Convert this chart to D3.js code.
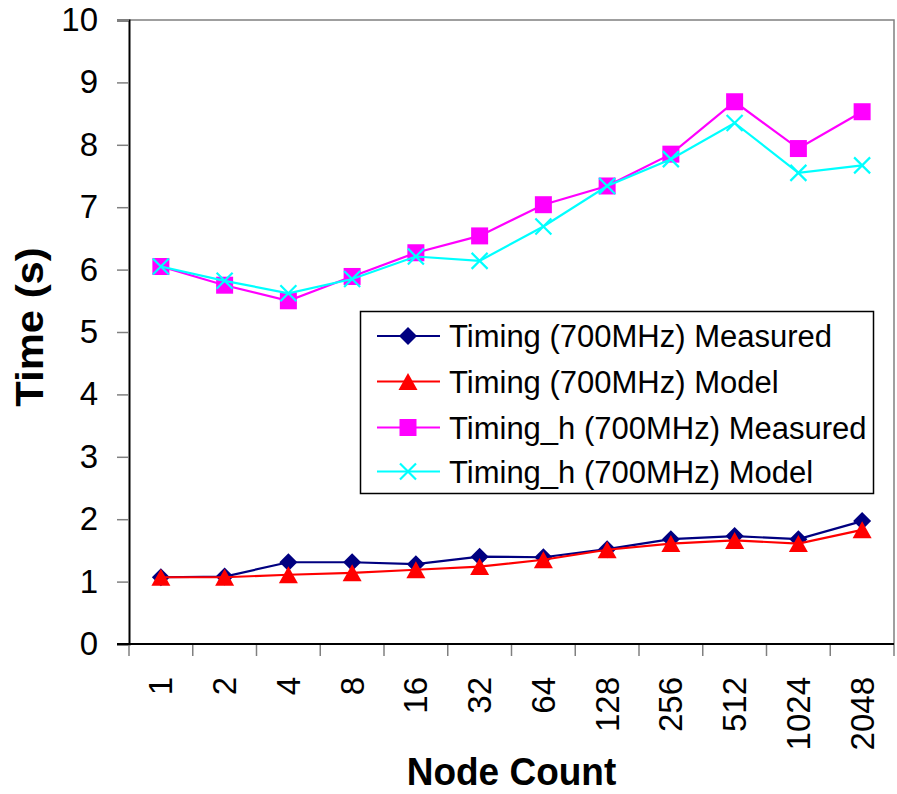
<!DOCTYPE html>
<html>
<head>
<meta charset="utf-8">
<script src="https://cdn.jsdelivr.net/npm/d3@7"></script>
<style>
  html, body { margin: 0; padding: 0; background: #fff; }
  svg { display: block; font-family: Arial, "Liberation Sans", sans-serif; }
</style>
</head>
<body>
<svg id="chart" width="897" height="794"></svg>
<script>
// Node counts along the x axis
const nodeCounts = ["1", "2", "4", "8", "16", "32", "64", "128", "256", "512", "1024", "2048"];

// Timing series (seconds)
const timingMeasured  = [1.07, 1.08, 1.31, 1.31, 1.28, 1.40, 1.39, 1.52, 1.68, 1.73, 1.68, 1.97];
const timingModel     = [1.07, 1.07, 1.11, 1.14, 1.19, 1.24, 1.35, 1.51, 1.61, 1.66, 1.61, 1.83];
const timingHMeasured = [6.05, 5.75, 5.50, 5.89, 6.27, 6.54, 7.04, 7.34, 7.85, 8.69, 7.94, 8.53];
const timingHModel    = [6.05, 5.82, 5.62, 5.85, 6.21, 6.14, 6.69, 7.34, 7.77, 8.35, 7.55, 7.67];

const seriesNames = [
  "Timing (700MHz) Measured",
  "Timing (700MHz) Model",
  "Timing_h (700MHz) Measured",
  "Timing_h (700MHz) Model"
];
const yTicks = [0, 1, 2, 3, 4, 5, 6, 7, 8, 9, 10];

const series = [
  { name: seriesNames[0], values: timingMeasured,  color: "#000080", marker: "diamond" },
  { name: seriesNames[1], values: timingModel,     color: "#FF0000", marker: "triangle" },
  { name: seriesNames[2], values: timingHMeasured, color: "#FF00FF", marker: "square" },
  { name: seriesNames[3], values: timingHModel,    color: "#00FFFF", marker: "cross" }
];

const svg = d3.select("#chart");
const plot = { left: 129, right: 894, top: 20, bottom: 644 };

const x = d3.scaleBand().domain(nodeCounts).range([plot.left, plot.right]).paddingInner(0).paddingOuter(0);
const y = d3.scaleLinear().domain([0, 10]).range([plot.bottom, plot.top]);
const cx = d => x(d) + x.bandwidth() / 2;

// Plot area frame (top and right edges)
svg.append("path")
  .attr("d", `M${plot.left},${plot.top}H${plot.right}V${plot.bottom}`)
  .attr("fill", "none").attr("stroke", "#808080").attr("stroke-width", 1.5);

// Y axis
const yAxis = svg.append("g").attr("transform", `translate(${plot.left},0)`)
  .call(d3.axisLeft(y).tickValues(yTicks).tickSize(12).tickPadding(19).tickFormat(d3.format("d")));
yAxis.select(".domain").attr("stroke", "#000").attr("stroke-width", 2);
yAxis.selectAll(".tick line").attr("stroke", "#808080").attr("stroke-width", 1.5);
yAxis.selectAll(".tick text").attr("font-size", 33).attr("fill", "#000")
  .attr("font-family", "Arial, 'Liberation Sans', sans-serif");

// X axis: ticks on band boundaries, labels rotated in band centres
const xAxis = svg.append("g").attr("transform", `translate(0,${plot.bottom})`);
const boundaries = nodeCounts.map(d => x(d)).concat([plot.right]);
xAxis.selectAll("line.tick").data(boundaries).join("line")
  .attr("class", "tick")
  .attr("x1", d => d).attr("x2", d => d).attr("y1", 0).attr("y2", 12)
  .attr("stroke", "#808080").attr("stroke-width", 1.5);
xAxis.append("line").attr("x1", plot.left - 12).attr("x2", plot.right).attr("y1", 0).attr("y2", 0)
  .attr("stroke", "#000").attr("stroke-width", 2);
xAxis.selectAll("text.label").data(nodeCounts).join("text")
  .attr("class", "label")
  .attr("transform", d => `translate(${cx(d)},33) rotate(-90)`)
  .attr("text-anchor", "end")
  .attr("dy", "0.35em")
  .attr("font-size", 33)
  .text(d => d);

// Axis titles
svg.append("text")
  .attr("transform", "translate(43,327) rotate(-90) scale(1.1,1)")
  .attr("text-anchor", "middle")
  .attr("font-size", 38).attr("font-weight", "bold")
  .text("Time (s)");
svg.append("text")
  .attr("transform", `translate(${(plot.left + plot.right) / 2},785) scale(1,1.05)`)
  .attr("text-anchor", "middle")
  .attr("font-size", 37).attr("font-weight", "bold")
  .text("Node Count");

// Marker shapes
function markerPath(kind) {
  switch (kind) {
    case "diamond": return "M0,-9L9,0L0,9L-9,0Z";
    case "triangle": return "M0,-8.5L9.5,8.5L-9.5,8.5Z";
    case "square": return "M-8.5,-8.5H8.5V8.5H-8.5Z";
    case "cross": return "M-8,-8L8,8M8,-8L-8,8";
  }
}

const line = d3.line().x((d, i) => cx(nodeCounts[i])).y(d => y(d));

series.forEach(s => {
  const g = svg.append("g");
  g.append("path").attr("d", line(s.values))
    .attr("fill", "none").attr("stroke", s.color).attr("stroke-width", 2.2);
  g.selectAll("path.m").data(s.values).join("path")
    .attr("class", "m")
    .attr("transform", (d, i) => `translate(${cx(nodeCounts[i])},${y(d)})`)
    .attr("d", markerPath(s.marker))
    .attr("fill", s.marker === "cross" ? "none" : s.color)
    .attr("stroke", s.color)
    .attr("stroke-width", s.marker === "cross" ? 2.2 : 0);
});

// Legend
const legend = svg.append("g");
legend.append("rect")
  .attr("x", 360.5).attr("y", 311.5).attr("width", 513).attr("height", 182)
  .attr("fill", "#fff").attr("stroke", "#000").attr("stroke-width", 1.5);
const rowY = [336, 381.5, 427.5, 471.5];
series.forEach((s, i) => {
  const row = legend.append("g").attr("transform", `translate(0,${rowY[i]})`);
  row.append("line").attr("x1", 377).attr("x2", 440).attr("y1", 0).attr("y2", 0)
    .attr("stroke", s.color).attr("stroke-width", 2.2);
  row.append("path").attr("transform", "translate(408,0)")
    .attr("d", markerPath(s.marker))
    .attr("fill", s.marker === "cross" ? "none" : s.color)
    .attr("stroke", s.color)
    .attr("stroke-width", s.marker === "cross" ? 2.2 : 0);
  row.append("text").attr("x", 449).attr("y", 0).attr("dy", "0.36em")
    .attr("font-size", 31).text(s.name);
});
</script>
</body>
</html>
